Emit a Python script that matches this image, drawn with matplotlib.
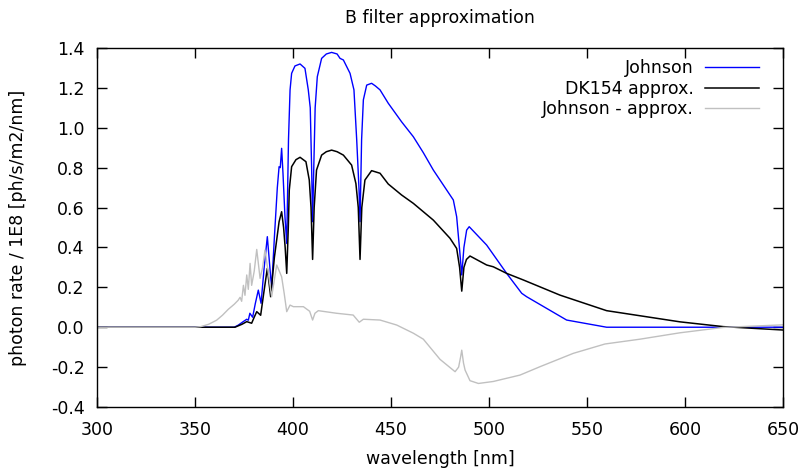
import matplotlib
matplotlib.use("Agg")
import matplotlib.pyplot as plt
import numpy as np

# values (wavelength in nm, rate / 1E8)
wl_johnson = [300, 370, 372, 374.6, 376.4, 377.2, 378.0, 379.4, 380.8, 382.3,
              383.7, 385.3, 386.9, 388.2, 389.1, 390.5, 392.0, 392.9, 393.5, 394.2,
              394.9, 395.9, 396.8, 397.7, 398.5, 399.3, 401.0, 403.6, 406.1, 407.8,
              408.8, 409.5, 410.0, 410.6, 411.3, 412.4, 414.6, 417.0, 419.7, 422.5,
              424.0, 425.7, 429.1, 431.1, 432.5, 433.7, 434.2, 435.0, 435.9, 437.6,
              440.1, 442.0, 444.4, 448.6, 455.4, 461.4, 466.5, 471.6, 478.4, 481.8,
              483.5, 484.9, 486.1, 487.2, 488.6, 489.9, 498.8, 509.0, 516.7, 519.2,
              539.6, 560.0, 650]
johnson = [0, 0, 0.01, 0.028, 0.04, 0.035, 0.07, 0.05, 0.12, 0.186,
           0.12, 0.30, 0.454, 0.30, 0.195, 0.45, 0.70, 0.805, 0.80, 0.897,
           0.77, 0.554, 0.42, 0.94, 1.19, 1.273, 1.31, 1.32, 1.298, 1.19,
           1.10, 0.80, 0.529, 0.80, 1.10, 1.256, 1.348, 1.37, 1.378, 1.37,
           1.348, 1.34, 1.273, 1.19, 0.94, 0.688, 0.529, 0.94, 1.14, 1.214,
           1.223, 1.21, 1.19, 1.123, 1.03, 0.955, 0.875, 0.788, 0.688, 0.638,
           0.554, 0.40, 0.262, 0.40, 0.487, 0.504, 0.412, 0.27, 0.17, 0.153,
           0.036, 0.0, 0.0]

wl_dk154 = [300, 370.4, 374, 376.4, 378.9, 380.2, 381.5, 383.5, 385.2, 386.9,
            388.6, 390.5, 392.9, 394.2, 395.2, 396.0, 396.8, 397.6, 398.1, 399.3,
            401.5, 403.6, 406.6, 408.3, 409.2, 410.0, 410.8, 412.0, 414.6, 417.0,
            419.7, 422.5, 425.7, 429.9, 432.1, 433.3, 434.2, 435.1, 436.7, 440.1,
            444.4, 448.6, 455.4, 461.4, 471.6, 480.1, 483.5, 485.0, 486.1, 487.2,
            488.5, 490.3, 498.8, 502.2, 509.0, 517.5, 536.2, 560.0, 597.4, 619.5,
            650]
dk154 = [0, 0, 0.015, 0.028, 0.02, 0.05, 0.078, 0.06, 0.18, 0.295,
         0.153, 0.35, 0.529, 0.579, 0.50, 0.40, 0.27, 0.50, 0.688, 0.805,
         0.84, 0.852, 0.83, 0.738, 0.60, 0.34, 0.60, 0.788, 0.863, 0.88,
         0.888, 0.88, 0.863, 0.813, 0.72, 0.60, 0.34, 0.60, 0.738, 0.785,
         0.772, 0.718, 0.663, 0.621, 0.537, 0.446, 0.395, 0.30, 0.181, 0.30,
         0.34, 0.357, 0.312, 0.303, 0.27, 0.237, 0.161, 0.083, 0.027, 0.003,
         -0.014]

wl_diff = [300, 350, 353, 357, 361, 364, 367, 370, 372, 373.0,
           373.8, 374.7, 375.5, 376.4, 377.2, 378.1, 378.9, 380.2, 381.5, 383.2,
           384.5, 385.7, 387.0, 389.1, 391.7, 394.2, 395.5, 396.8, 398.5, 400.2,
           405.3, 408.5, 410.0, 411.2, 412.9, 422.2, 430.7, 433.8, 435.9, 444.4,
           452.9, 461.4, 466.5, 475.0, 482.7, 484.5, 485.5, 486.1, 487.0, 487.8,
           490.3, 494.6, 502.2, 515.8, 526.0, 543.0, 559.2, 577.0, 597.4, 619.5,
           650]
diff = [0, 0, 0.003, 0.015, 0.035, 0.06, 0.09, 0.115, 0.135, 0.15,
        0.13, 0.21, 0.16, 0.262, 0.19, 0.32, 0.21, 0.28, 0.39, 0.245,
        0.30, 0.387, 0.30, 0.153, 0.312, 0.253, 0.17, 0.078, 0.111, 0.103,
        0.103, 0.08, 0.036, 0.07, 0.083, 0.07, 0.061, 0.025, 0.04, 0.036,
        0.011, -0.03, -0.06, -0.161, -0.223, -0.20, -0.15, -0.115, -0.18, -0.215,
        -0.268, -0.282, -0.272, -0.24, -0.198, -0.131, -0.084, -0.06, -0.028, -0.001,
        0.012]

xticks = np.arange(300, 651, 50)
yticks = np.arange(-0.4, 1.41, 0.2)

plt.rcParams['axes.unicode_minus'] = False
plt.rcParams['font.family'] = ['DejaVu Sans']
fs = 12.5

fig = plt.figure(figsize=(8.05, 4.7), dpi=100)
ax = fig.add_axes([97 / 805, 1 - 407 / 470, 686 / 805, 359 / 470])

ax.plot(wl_johnson, johnson, color="#0000ff", lw=1.0, label="Johnson")
ax.plot(wl_dk154, dk154, color="black", lw=1.1, label="DK154 approx.")
ax.plot(wl_diff, diff, color="#c0c0c0", lw=1.0, label="Johnson - approx.")

ax.set_xlim(300, 650)
ax.set_ylim(-0.4, 1.4)
ax.set_xticks(xticks)
ax.set_yticks(yticks)
ax.set_yticklabels(["{:.1f}".format(v) for v in yticks])
ax.tick_params(direction="in", length=7, width=1, top=True, right=True,
               labelsize=fs, colors="black")
ax.tick_params(axis="x", pad=10)
ax.tick_params(axis="y", pad=9)
for s in ax.spines.values():
    s.set_linewidth(1.0)

ax.set_title("B filter approximation", fontsize=fs, pad=18)
ax.set_xlabel("wavelength [nm]", fontsize=fs, labelpad=8)
ax.set_ylabel("photon rate / 1E8 [ph/s/m2/nm]", fontsize=fs, labelpad=17)

leg = ax.legend(loc="upper right", bbox_to_anchor=(1 - 24 / 686, 1 - 11 / 359),
                borderaxespad=0, borderpad=0, frameon=False, markerfirst=False,
                handlelength=3.1, handletextpad=0.65, labelspacing=0.15,
                fontsize=fs)

fig.savefig("out.png", dpi=100)
